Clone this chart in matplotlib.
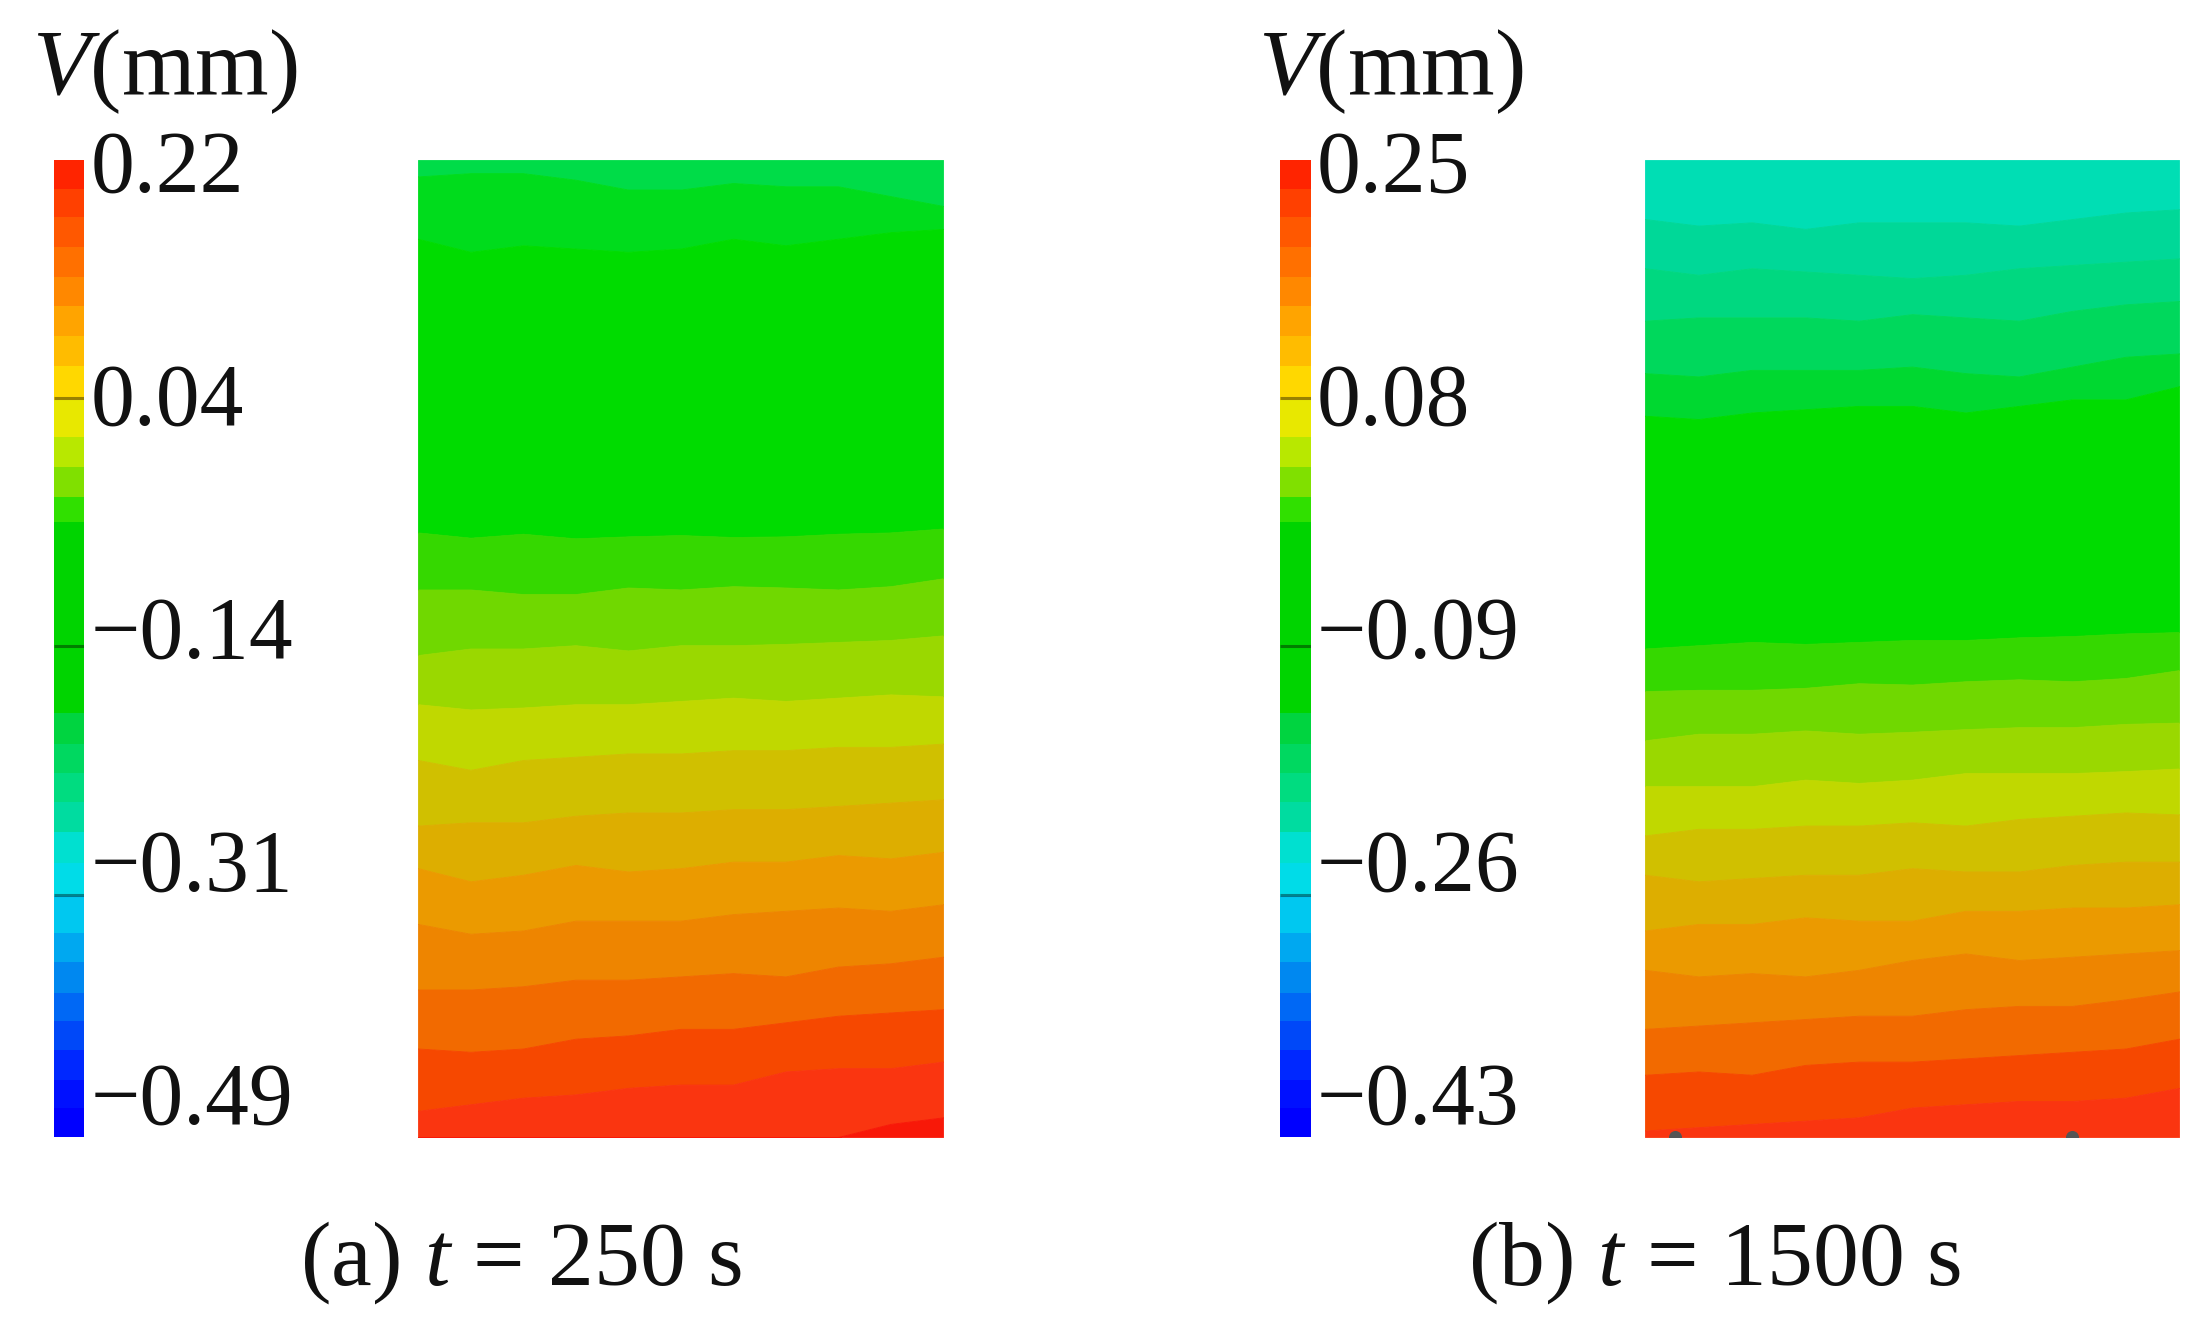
import matplotlib
matplotlib.use("Agg")
import matplotlib.pyplot as plt
from matplotlib.colors import ListedColormap

W, H = 2201, 1321

plt.rcParams['font.family'] = ['Liberation Serif']
plt.rcParams['mathtext.fontset'] = 'custom'
plt.rcParams['mathtext.rm'] = 'Liberation Serif'
plt.rcParams['mathtext.it'] = 'Liberation Serif:italic'

# colour scale, top to bottom, edges
cbar_edges = [88, 130, 172, 215, 260, 303, 346, 390, 440, 495, 538, 583, 620, 900,
              945, 988, 1030, 1075, 1120, 1168, 1222, 1265, 1310, 1352, 1395, 1438, 1480, 1522]
cbar_colors = ['#ff2400', '#ff4000', '#ff5800', '#ff7000', '#ff8800', '#ffa400', '#ffbc00', '#ffd800',
               '#e8e800', '#b8e800', '#80e000', '#30e000', '#00d400',
               '#00d440', '#00d860', '#00dc80', '#00dca0', '#00e0d0', '#00dce8',
               '#00c8f0', '#00a8f0', '#0088f0', '#0068f5', '#0048f8', '#0028ff', '#0010ff', '#0000ff']
cbar_ticks = [437, 802, 1167]

labels_a = ['0.22', '0.04', '\u22120.14', '\u22120.31', '\u22120.49']
labels_b = ['0.25', '0.08', '\u22120.09', '\u22120.26', '\u22120.43']

# across the specimen width, fraction
x_frac = [0, 0.1, 0.2, 0.3, 0.4, 0.5, 0.6, 0.7, 0.8, 0.9, 1]

# band boundaries, t = 250 s
bounds_a = [
    [55, 50, 50, 60, 75, 75, 65, 70, 70, 85, 100],
    [150, 170, 160, 165, 170, 165, 150, 160, 150, 140, 135],
    [598, 606, 600, 607, 604, 602, 605, 604, 600, 598, 592],
    [685, 685, 692, 692, 682, 685, 680, 682, 685, 680, 668],
    [785, 775, 775, 770, 778, 770, 770, 768, 765, 762, 755],
    [860, 868, 865, 860, 860, 855, 850, 855, 850, 845, 848],
    [945, 960, 945, 940, 935, 935, 930, 930, 925, 925, 920],
    [1045, 1040, 1040, 1030, 1025, 1025, 1020, 1020, 1015, 1010, 1005],
    [1110, 1130, 1120, 1105, 1115, 1110, 1100, 1100, 1090, 1095, 1085],
    [1195, 1210, 1205, 1190, 1190, 1190, 1180, 1175, 1170, 1175, 1165],
    [1295, 1295, 1290, 1280, 1280, 1275, 1270, 1275, 1260, 1255, 1245],
    [1385, 1390, 1385, 1370, 1365, 1355, 1355, 1345, 1335, 1330, 1325],
    [1480, 1470, 1460, 1455, 1445, 1440, 1440, 1420, 1415, 1415, 1405],
    [1520, 1520, 1520, 1520, 1520, 1520, 1520, 1520, 1520, 1500, 1490],
]
colors_a = ['#00dc48', '#00dc1c', '#00dc00', '#35d800', '#70d800', '#9ad800', '#c0d800',
            '#d0c000', '#ddae00', '#eb9a00', '#ee8500', '#f26a00', '#f64800', '#fa3510', '#f81808']

# band boundaries, t = 1500 s
bounds_b = [
    [120, 130, 125, 135, 125, 125, 125, 130, 120, 110, 105],
    [195, 205, 195, 200, 205, 210, 205, 195, 190, 185, 180],
    [275, 270, 270, 270, 275, 265, 270, 275, 260, 250, 245],
    [355, 360, 350, 350, 350, 345, 355, 360, 345, 330, 325],
    [420, 425, 415, 410, 405, 405, 415, 405, 395, 395, 375],
    [775, 770, 765, 768, 765, 762, 762, 758, 756, 752, 750],
    [840, 838, 838, 835, 828, 830, 825, 822, 825, 820, 808],
    [915, 905, 905, 900, 905, 902, 898, 895, 895, 890, 888],
    [985, 985, 985, 975, 980, 975, 965, 965, 965, 962, 958],
    [1060, 1050, 1050, 1045, 1045, 1040, 1045, 1035, 1030, 1025, 1028],
    [1120, 1130, 1125, 1120, 1120, 1110, 1115, 1115, 1105, 1100, 1100],
    [1205, 1195, 1195, 1185, 1190, 1190, 1175, 1175, 1170, 1170, 1165],
    [1265, 1275, 1270, 1275, 1265, 1250, 1240, 1250, 1245, 1240, 1235],
    [1355, 1350, 1345, 1340, 1335, 1335, 1325, 1320, 1320, 1310, 1298],
    [1425, 1420, 1425, 1410, 1405, 1405, 1400, 1395, 1390, 1385, 1370],
    [1510, 1505, 1500, 1495, 1490, 1475, 1470, 1465, 1465, 1460, 1445],
]
colors_b = ['#00deb4', '#00d898', '#00d880', '#00d85c', '#00d830', '#00dc00', '#35d800', '#70d800', '#9ad800',
            '#c0d800', '#d0c000', '#ddae00', '#eb9a00', '#ee8500', '#f26a00', '#f64800', '#fa3510']
# dark specks on the lower edge of (b)
specks_x = [0.057, 0.80]


def px_axes(fig, x0, y0, x1, y1):
    ax = fig.add_axes([x0 / W, 1 - y1 / H, (x1 - x0) / W, (y1 - y0) / H])
    ax.axis('off')
    return ax


def px_text(fig, x, y, s, size=63):
    fig.text(x / W, 1 - y / H, s, fontsize=size, va='baseline', ha='left', color='#111111')


def draw_cbar(fig, x0, x1):
    ax = px_axes(fig, x0, 160, x1, 1137)
    cmap = ListedColormap(cbar_colors)
    ax.pcolormesh([0, 1], cbar_edges, [[i] for i in range(len(cbar_colors))], cmap=cmap,
                  vmin=-0.5, vmax=len(cbar_colors) - 0.5)
    ax.hlines(cbar_ticks, 0, 1, color='black', alpha=0.4, lw=2.2)
    ax.set_xlim(0, 1)
    ax.set_ylim(1522, 88)


def draw_field(fig, x0, x1, bounds, colors):
    ax = px_axes(fig, x0, 160, x1, 1137)
    top = [30] * len(x_frac)
    bottom = [1520] * len(x_frac)
    edges = [top] + bounds + [bottom]
    for i, c in enumerate(colors):
        ax.fill_between(x_frac, edges[i], edges[i + 1], color=c, lw=0.6)
    ax.set_xlim(0, 1)
    ax.set_ylim(1520, 30)
    return ax


fig = plt.figure(figsize=(W / 100, H / 100), dpi=100)

draw_cbar(fig, 54, 84)
draw_field(fig, 418, 943, bounds_a, colors_a)
draw_cbar(fig, 1280, 1311)
ax_b = draw_field(fig, 1645, 2179, bounds_b, colors_b)
ax_b.scatter(specks_x, [1520, 1520], s=70, color='#555555', marker='o')

label_rows = [192, 425, 658, 891, 1124]
for s, y in zip(labels_a, label_rows):
    px_text(fig, 91, y, s)
for s, y in zip(labels_b, label_rows):
    px_text(fig, 1317, y, s)

px_text(fig, 32, 94, r'$\mathit{V}$(mm)', size=68)
px_text(fig, 1258, 94, r'$\mathit{V}$(mm)', size=68)
px_text(fig, 300, 1285, r'(a) $\mathit{t}$ = 250 s', size=66)
px_text(fig, 1468, 1285, r'(b) $\mathit{t}$ = 1500 s', size=66)

fig.savefig('out.png', dpi=100)
